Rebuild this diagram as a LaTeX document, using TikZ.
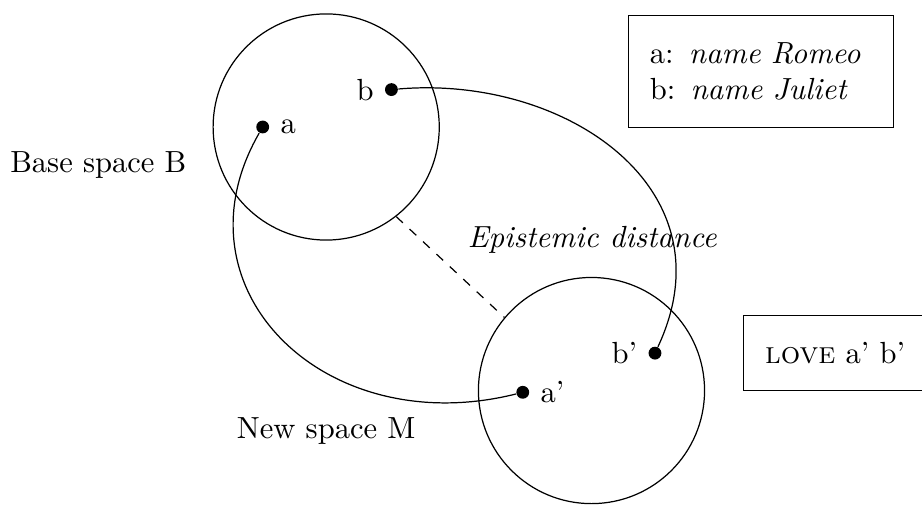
\documentclass[tikz,border=0pt]{standalone}
\begin{document}
\begin{tikzpicture}[
  dot/.style={circle,fill,inner sep=0pt,minimum size=4.2pt},
  space/.style={circle,draw,minimum size=2.6cm},
  framebox/.style={draw,rectangle}]
\useasboundingbox (0,0) rectangle (10.6,5.8);
\node[space] (B) at (3.75,4.34) {};
\node[space] (M) at (6.8,1.31) {};
\node[dot,label=right:a] (a) at (3.02,4.34) {};
\node[dot,label=left:b] (b) at (4.5,4.77) {};
\node[dot,label=right:a'] (a1) at (6.01,1.29) {};
\node[dot,label=left:b'] (b1) at (7.53,1.74) {};
\draw (a) .. controls (1.95,2.48) and (3.73,0.72) .. (a1);
\draw (b) .. controls (6.49,4.94) and (8.42,3.64) .. (b1);
\draw[dashed] (B.-52) -- (M.140);
\node (base) at (1.13,3.9) {Base space B};
\node (new) at (3.75,0.85) {New space M};
\node (dist) at (6.81,3.04) {\textit{Epistemic distance}};
\node[framebox,text width=2.56cm,inner xsep=0.24cm,minimum height=1.29cm,align=left]
  (names) at (8.75,4.98) {a: \textit{name Romeo}\\ b: \textit{name Juliet}};
\node[framebox,anchor=west,inner xsep=0.25cm,minimum height=0.86cm]
  (love) at (8.54,1.74) {\textsc{love} a' b'};
\end{tikzpicture}
\end{document}
